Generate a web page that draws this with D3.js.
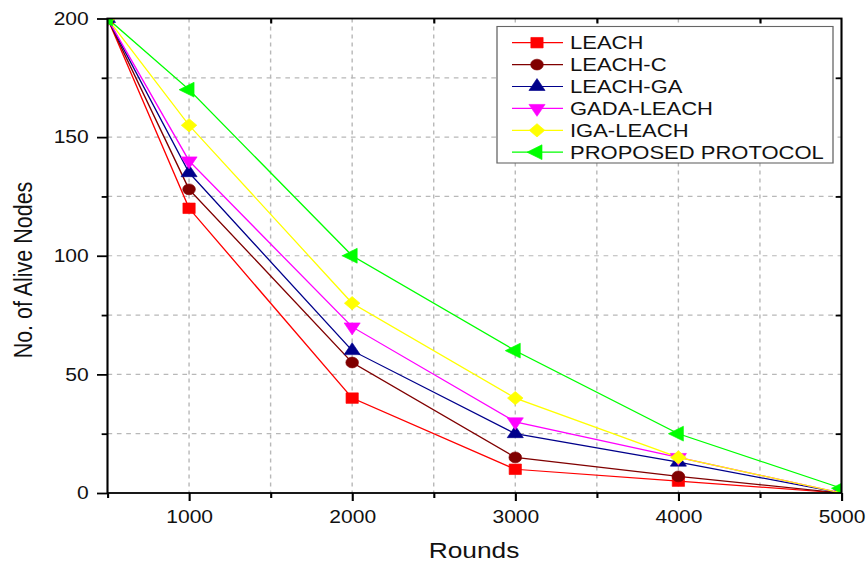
<!DOCTYPE html>
<html>
<head>
<meta charset="utf-8">
<script src="https://cdn.jsdelivr.net/npm/d3@7"></script>
<style>
  html, body { margin: 0; padding: 0; background: #fff; }
  svg { display: block; }
  text { font-family: "Liberation Sans", Arial, sans-serif; fill: #111; }
</style>
</head>
<body>
<div id="chart"></div>
<script>
// rounds on the x axis
const rounds = [500, 1000, 2000, 3000, 4000, 5000];

// alive nodes per protocol
const leach      = [200, 120, 40, 10, 5, 0];
const leachC     = [200, 128, 55, 15, 7, 0];
const leachGA    = [200, 135, 60, 25, 13, 0];
const gadaLeach  = [200, 140, 70, 30, 15, 0];
const igaLeach   = [200, 155, 80, 40, 15, 0];
const proposed   = [200, 170, 100, 60, 25, 2];

const seriesNames = ["LEACH", "LEACH-C", "LEACH-GA", "GADA-LEACH", "IGA-LEACH", "PROPOSED PROTOCOL"];

const xMajorTicks = [1000, 2000, 3000, 4000, 5000];
const xMinorTicks = [500, 1500, 2500, 3500, 4500];
const yMajorTicks = [0, 50, 100, 150, 200];
const yMinorTicks = [25, 75, 125, 175];

function createChart() {
    var width = 867, height = 565;
    // the original picture is stretched sideways, so draw in a narrower box
    var sx = 1.17;
    var vbWidth = width / sx;

    var styles = [
        {color: "#ff0000", symbol: d3.symbolSquare,   size: 110, rotate: 0},
        {color: "#800000", symbol: d3.symbolCircle,   size: 92,  rotate: 0},
        {color: "#00008b", symbol: d3.symbolTriangle, size: 82,  rotate: 0},
        {color: "#ff00ff", symbol: d3.symbolTriangle, size: 82,  rotate: 180},
        {color: "#ffff00", symbol: d3.symbolSquare,   size: 88,  rotate: 45},
        {color: "#00ff00", symbol: d3.symbolTriangle, size: 95,  rotate: -90}
    ];

    var values = [leach, leachC, leachGA, gadaLeach, igaLeach, proposed];
    var series = seriesNames.map((name, i) => ({
        name: name,
        style: styles[i],
        points: rounds.map((r, j) => ({x: r, y: values[i][j]}))
    }));

    var x = d3.scaleLinear()
        .domain([500, 5000])
        .range([107.5 / sx, 841.5 / sx]);

    var y = d3.scaleLinear()
        .domain([0, 200])
        .range([493, 18.5]);

    var svg = d3.select("#chart")
        .append("svg")
            .attr("width", width)
            .attr("height", height)
            .attr("viewBox", [0, 0, vbWidth, height])
            .attr("preserveAspectRatio", "none");

    // grid
    var grid = svg.append("g")
        .attr("stroke", "#b8b8b8")
        .attr("stroke-width", 1.2)
        .attr("stroke-dasharray", "4,4");

    grid.selectAll("line.v")
        .data(d3.range(1000, 5000, 500))
        .join("line")
            .attr("x1", d => x(d)).attr("x2", d => x(d))
            .attr("y1", y(200)).attr("y2", y(0));

    grid.selectAll("line.h")
        .data(d3.range(25, 200, 25))
        .join("line")
            .attr("x1", x(500)).attr("x2", x(5000))
            .attr("y1", d => y(d)).attr("y2", d => y(d));

    // data
    svg.append("clipPath")
        .attr("id", "plot-clip")
        .append("rect")
            .attr("x", x(500)).attr("y", y(200))
            .attr("width", x(5000) - x(500))
            .attr("height", y(0) - y(200));

    var line = d3.line()
        .x(d => x(d.x))
        .y(d => y(d.y));

    var plot = svg.append("g").attr("clip-path", "url(#plot-clip)");

    series.forEach(s => {
        plot.append("path")
            .datum(s.points)
            .attr("fill", "none")
            .attr("stroke", s.style.color)
            .attr("stroke-width", 1.2)
            .attr("d", line);
    });

    series.forEach(s => {
        plot.selectAll(null)
            .data(s.points)
            .join("path")
                .attr("transform", d => `translate(${x(d.x)},${y(d.y)}) rotate(${s.style.rotate})`)
                .attr("d", d3.symbol(s.style.symbol, s.style.size))
                .attr("fill", s.style.color)
                .attr("stroke", s.style.color)
                .attr("stroke-width", 0.6);
    });

    // axes
    var tickStyle = g => {
        g.select(".domain").remove();
        g.selectAll(".tick line").attr("stroke", "#000").attr("stroke-width", 1.8);
        g.selectAll(".tick text")
            .attr("font-family", "Liberation Sans, Arial, sans-serif")
            .attr("font-size", 18)
            .attr("fill", "#111");
    };

    svg.append("g")
        .attr("transform", `translate(0,${y(0)})`)
        .call(d3.axisBottom(x).tickValues(xMajorTicks).tickSize(8).tickPadding(9).tickFormat(d3.format("d")))
        .call(tickStyle);

    svg.append("g")
        .attr("transform", `translate(0,${y(0)})`)
        .call(d3.axisBottom(x).tickValues(xMinorTicks).tickSize(5).tickFormat(""))
        .call(tickStyle);

    svg.append("g")
        .attr("transform", `translate(${x(500)},0)`)
        .call(d3.axisLeft(y).tickValues(yMajorTicks).tickSize(9).tickPadding(7))
        .call(tickStyle);

    svg.append("g")
        .attr("transform", `translate(${x(500)},0)`)
        .call(d3.axisLeft(y).tickValues(yMinorTicks).tickSize(5).tickFormat(""))
        .call(tickStyle);

    svg.append("g")
        .attr("transform", `translate(0,${y(200)})`)
        .call(d3.axisTop(x).tickValues(xMinorTicks.slice(1)).tickSize(-5).tickFormat(""))
        .call(tickStyle);

    svg.append("g")
        .attr("transform", `translate(${x(5000)},0)`)
        .call(d3.axisRight(y).tickValues(yMinorTicks).tickSize(-5).tickFormat(""))
        .call(tickStyle);

    // frame
    svg.append("rect")
        .attr("x", x(500)).attr("y", y(200))
        .attr("width", x(5000) - x(500))
        .attr("height", y(0) - y(200))
        .attr("fill", "none")
        .attr("stroke", "#000")
        .attr("stroke-width", 1.8);

    // axis titles
    svg.append("text")
        .attr("x", 474 / sx)
        .attr("y", 558)
        .attr("text-anchor", "middle")
        .attr("font-size", 22.5)
        .text("Rounds");

    svg.append("text")
        .attr("transform", `translate(${32 / sx},270) rotate(-90)`)
        .attr("text-anchor", "middle")
        .attr("font-size", 21.5)
        .text("No. of Alive Nodes");

    // legend
    var lg = svg.append("g");
    lg.append("rect")
        .attr("x", 497 / sx).attr("y", 26.5)
        .attr("width", 336 / sx).attr("height", 136.5)
        .attr("fill", "#fff")
        .attr("stroke", "#666")
        .attr("stroke-width", 1.1);

    var rows = lg.selectAll("g.row")
        .data(series)
        .join("g")
            .attr("transform", (d, i) => `translate(0,${42.7 + i * 21.9})`);

    rows.append("line")
        .attr("x1", 512 / sx).attr("x2", 563 / sx)
        .attr("stroke", d => d.style.color)
        .attr("stroke-width", 1.2);

    rows.append("path")
        .attr("transform", d => `translate(${537 / sx},0) rotate(${d.style.rotate})`)
        .attr("d", d => d3.symbol(d.style.symbol, d.style.size)())
        .attr("fill", d => d.style.color)
        .attr("stroke", d => d.style.color)
        .attr("stroke-width", 0.6);

    rows.append("text")
        .attr("x", 570 / sx)
        .attr("dy", "0.36em")
        .attr("font-size", 18.8)
        .text(d => d.name);
}

createChart();
</script>
</body>
</html>
